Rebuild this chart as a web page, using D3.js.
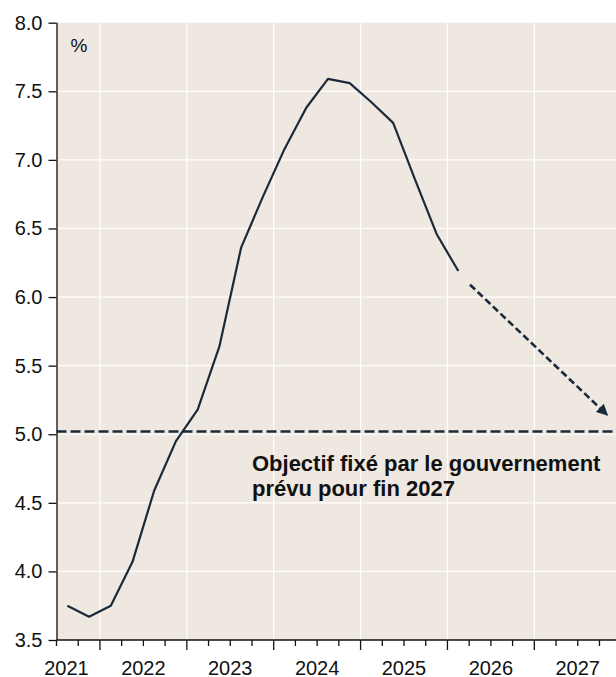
<!DOCTYPE html>
<html>
<head>
<meta charset="utf-8">
<script src="https://cdn.jsdelivr.net/npm/d3@7"></script>
<style>
  html, body { margin: 0; padding: 0; background: #fff; }
  svg { display: block; font-family: "Liberation Sans", Arial, sans-serif; }
</style>
</head>
<body>
<div id="chart"></div>
<script>
// quarterly series (plotted at mid-quarter)
const quarters = ['2021-Q3', '2021-Q4', '2022-Q1', '2022-Q2', '2022-Q3', '2022-Q4',
                  '2023-Q1', '2023-Q2', '2023-Q3', '2023-Q4', '2024-Q1', '2024-Q2',
                  '2024-Q3', '2024-Q4', '2025-Q1', '2025-Q2', '2025-Q3', '2025-Q4', '2026-Q1'];
const values = [3.75, 3.67, 3.75, 4.07, 4.59, 4.95, 5.18, 5.64, 6.36, 6.73, 7.08, 7.38,
                7.59, 7.56, 7.42, 7.27, 6.86, 6.46, 6.19];
const years = [2021, 2022, 2023, 2024, 2025, 2026, 2027];
const yTicks = [3.5, 4.0, 4.5, 5.0, 5.5, 6.0, 6.5, 7.0, 7.5, 8.0];
const target = 5.02;
const arrowFrom = [2026.26, 6.09];
const arrowTo = [2027.84, 5.14];
const noteLines = ['Objectif fixé par le gouvernement', 'prévu pour fin 2027'];
const notePos = [2023.75, 4.73];

const width = 616, height = 677;
const mLeft = 56.5, mRight = 621.2, mTop = 22.7, mBottom = 640;

const toYear = q => +q.slice(0, 4) + (+q.slice(6) - 1) * 0.25 + 0.125;

const svg = d3.select('#chart').append('svg')
    .attr('width', width)
    .attr('height', height);

const x = d3.scaleLinear().domain([2021.5, 2028]).range([mLeft, mRight]);
const y = d3.scaleLinear().domain([3.5, 8.0]).range([mBottom, mTop]);

const ink = '#1b2a38';

svg.append('defs').append('marker')
    .attr('id', 'arrow')
    .attr('viewBox', '0 0 10 10')
    .attr('refX', 9).attr('refY', 5)
    .attr('markerWidth', 5).attr('markerHeight', 4.4)
    .attr('markerUnits', 'strokeWidth')
    .attr('orient', 'auto')
  .append('path')
    .attr('d', 'M0,0L10,5L0,10Z')
    .attr('fill', ink);

// plot background
svg.append('rect')
    .attr('x', mLeft).attr('y', mTop)
    .attr('width', width - mLeft).attr('height', mBottom - mTop)
    .attr('fill', '#efe8e1');

// grid
svg.append('g').selectAll('line')
    .data(yTicks.slice(1, -1))
    .enter().append('line')
    .attr('x1', mLeft).attr('x2', width)
    .attr('y1', d => y(d)).attr('y2', d => y(d))
    .attr('stroke', '#fff').attr('stroke-width', 1.2);

svg.append('g').selectAll('line')
    .data(years.slice(1))
    .enter().append('line')
    .attr('x1', d => x(d)).attr('x2', d => x(d))
    .attr('y1', mTop).attr('y2', mBottom)
    .attr('stroke', '#fff').attr('stroke-width', 1.2);

// y axis
const yAxis = svg.append('g')
    .attr('transform', 'translate(' + mLeft + ',0)')
    .call(d3.axisLeft(y).tickValues(yTicks).tickFormat(d3.format('.1f')).tickSize(8).tickPadding(6));
yAxis.selectAll('text').attr('font-size', 20).attr('fill', '#111').attr('font-family', null);
yAxis.selectAll('line, path').attr('stroke', '#111').attr('stroke-width', 1.3);
yAxis.select('.domain').attr('d', 'M0.5,' + mTop + 'V' + mBottom);

// x axis: quarterly minor ticks, yearly major ticks
const qTicks = d3.range(2021.5, 2028, 0.25);
const xAxis = svg.append('g').attr('transform', 'translate(0,' + mBottom + ')');
xAxis.append('line')
    .attr('x1', mLeft).attr('x2', width)
    .attr('stroke', '#111').attr('stroke-width', 1.5);
xAxis.selectAll('.tick')
    .data(qTicks)
    .enter().append('line')
    .attr('class', 'tick')
    .attr('x1', d => x(d)).attr('x2', d => x(d))
    .attr('y1', 0).attr('y2', d => Number.isInteger(d) ? 10 : 6)
    .attr('stroke', '#111').attr('stroke-width', 1.3);
xAxis.selectAll('text')
    .data(years)
    .enter().append('text')
    .attr('x', d => Math.max(x(d + 0.5), mLeft + 10))
    .attr('y', 35)
    .attr('text-anchor', 'middle')
    .attr('font-size', 20)
    .attr('fill', '#111')
    .text(d => d);

// % unit
svg.append('text')
    .attr('x', mLeft + 14).attr('y', 51.5)
    .attr('font-size', 19)
    .attr('fill', '#111')
    .text('%');

// target line
svg.append('line')
    .attr('x1', mLeft).attr('x2', width)
    .attr('y1', y(target)).attr('y2', y(target))
    .attr('stroke', ink).attr('stroke-width', 2.6)
    .attr('stroke-dasharray', '10,4');

// series
const line = d3.line()
    .x((d, i) => x(toYear(quarters[i])))
    .y(d => y(d));

svg.append('path')
    .datum(values)
    .attr('d', line)
    .attr('fill', 'none')
    .attr('stroke', ink)
    .attr('stroke-width', 2.2)
    .attr('stroke-linejoin', 'round');

// projection arrow
svg.append('line')
    .attr('x1', x(arrowFrom[0])).attr('y1', y(arrowFrom[1]))
    .attr('x2', x(arrowTo[0])).attr('y2', y(arrowTo[1]))
    .attr('stroke', ink).attr('stroke-width', 2.6)
    .attr('stroke-dasharray', '7,3.5')
    .attr('marker-end', 'url(#arrow)');

// annotation
svg.append('text')
    .attr('x', x(notePos[0])).attr('y', y(notePos[1]))
    .attr('font-size', 22).attr('font-weight', 'bold').attr('fill', '#111')
    .selectAll('tspan')
    .data(noteLines)
    .enter().append('tspan')
    .attr('x', x(notePos[0]))
    .attr('dy', (d, i) => i ? 24.5 : 0)
    .text(d => d);
</script>
</body>
</html>
